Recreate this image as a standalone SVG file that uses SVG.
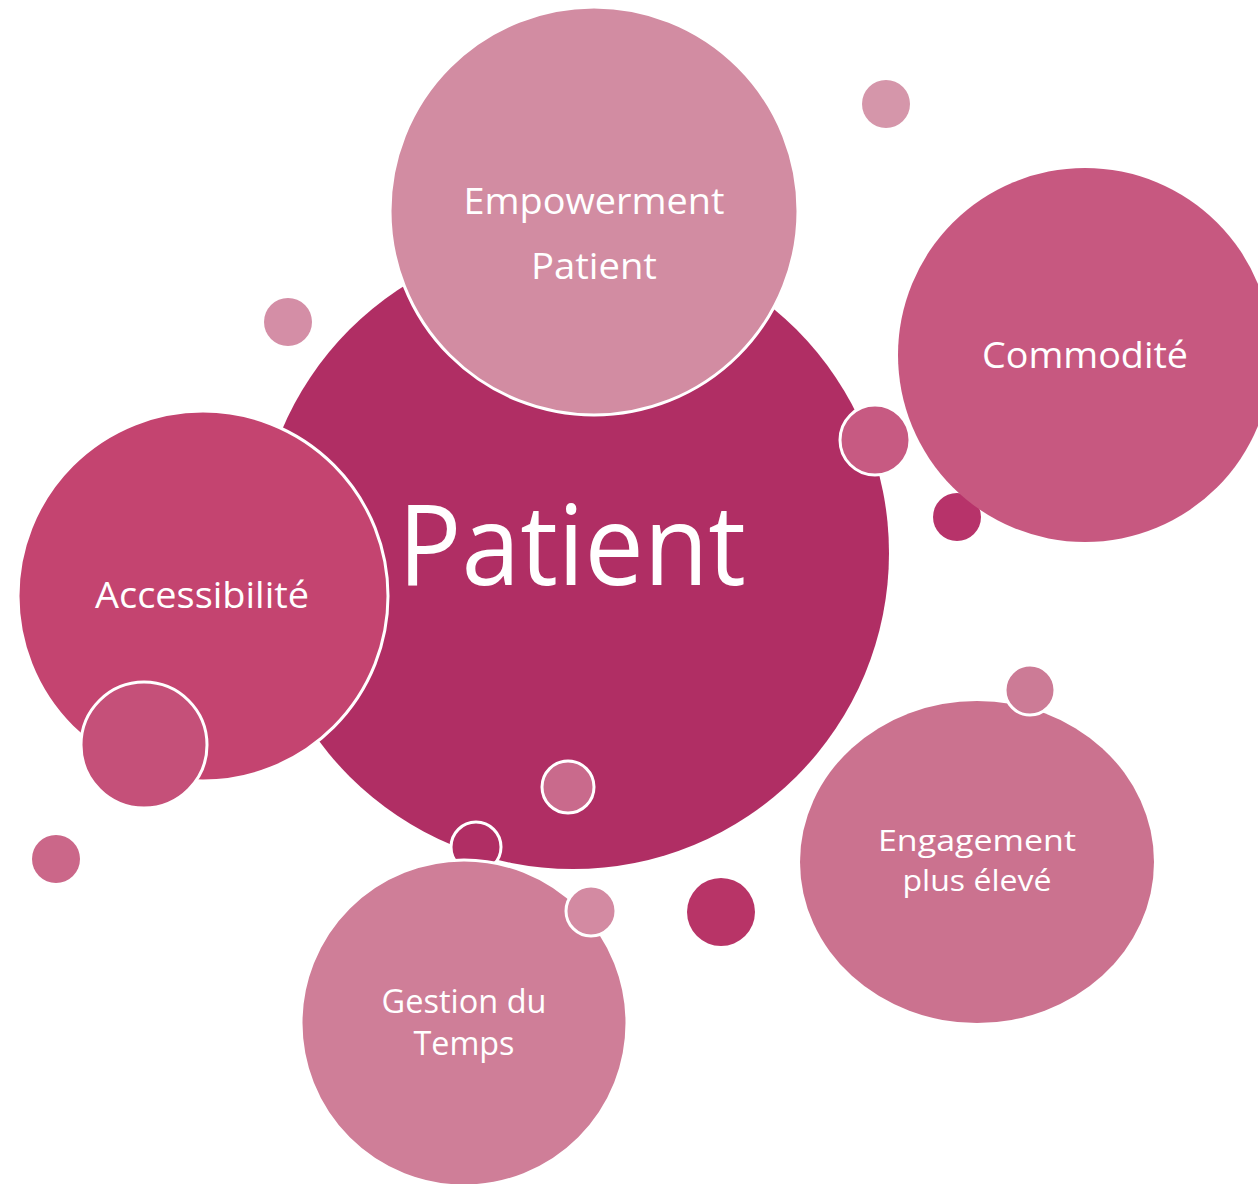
<svg xmlns="http://www.w3.org/2000/svg" width="1258" height="1184" viewBox="0 0 1258 1184">
<style>
.lbl{font-family:"Open Sans","Noto Sans","Liberation Sans",sans-serif;fill:#ffffff;text-anchor:middle}
.ring{stroke:#ffffff;stroke-width:3}
</style>
<rect width="1258" height="1184" fill="#ffffff"/>
<g id="patient">
<circle cx="573" cy="553" r="316" fill="#b02e64"/>
<text class="lbl" x="572" y="585" font-size="112" textLength="348" lengthAdjust="spacingAndGlyphs">Patient</text>
</g>
<g id="dot-1"><circle cx="288" cy="322" r="24" fill="#d48ea6"/></g>
<g id="dot-2"><circle cx="886" cy="104" r="24" fill="#d596aa"/></g>
<g id="empowerment">
<circle class="ring" cx="594" cy="211" r="204" fill="#d28ca2"/>
<text class="lbl" x="594" y="214" font-size="36" textLength="261" lengthAdjust="spacingAndGlyphs">Empowerment</text>
<text class="lbl" x="594" y="279" font-size="36" textLength="126" lengthAdjust="spacingAndGlyphs">Patient</text>
</g>
<g id="dot-3"><circle class="ring" cx="875" cy="440" r="35" fill="#c75a82"/></g>
<g id="dot-4"><circle cx="957" cy="517" r="24" fill="#b7336a"/></g>
<g id="commodite">
<circle cx="1085" cy="355" r="187" fill="#c75880"/>
<text class="lbl" x="1085" y="368" font-size="36" textLength="206" lengthAdjust="spacingAndGlyphs">Commodité</text>
</g>
<g id="accessibilite">
<circle class="ring" cx="203" cy="596" r="185" fill="#c44470"/>
<text class="lbl" x="202" y="608" font-size="36" textLength="214" lengthAdjust="spacingAndGlyphs">Accessibilité</text>
</g>
<g id="dot-5"><circle class="ring" cx="144" cy="745" r="63" fill="#c55079"/></g>
<g id="dot-6"><circle cx="56" cy="859" r="24" fill="#cb6789"/></g>
<g id="dot-7"><circle class="ring" cx="568" cy="787" r="26" fill="#c96a8c"/></g>
<g id="dot-8"><circle class="ring" cx="476" cy="847" r="25" fill="#b02e64"/></g>
<g id="gestion">
<circle class="ring" cx="464" cy="1023" r="163" fill="#cf7e98"/>
<text class="lbl" x="464" y="1013" font-size="33" textLength="165" lengthAdjust="spacingAndGlyphs">Gestion du</text>
<text class="lbl" x="464" y="1055" font-size="33" textLength="101" lengthAdjust="spacingAndGlyphs">Temps</text>
</g>
<g id="dot-9"><circle class="ring" cx="591" cy="911" r="25" fill="#d38aa2"/></g>
<g id="dot-10"><circle cx="721" cy="912" r="34" fill="#b83467"/></g>
<g id="engagement">
<ellipse cx="977" cy="862" rx="177" ry="161" fill="#cb728f"/>
<text class="lbl" x="977" y="851" font-size="30" textLength="198" lengthAdjust="spacingAndGlyphs">Engagement</text>
<text class="lbl" x="977" y="891" font-size="30" textLength="149" lengthAdjust="spacingAndGlyphs">plus élevé</text>
</g>
<g id="dot-11"><circle class="ring" cx="1030" cy="690" r="25" fill="#cc7b96"/></g>
</svg>
